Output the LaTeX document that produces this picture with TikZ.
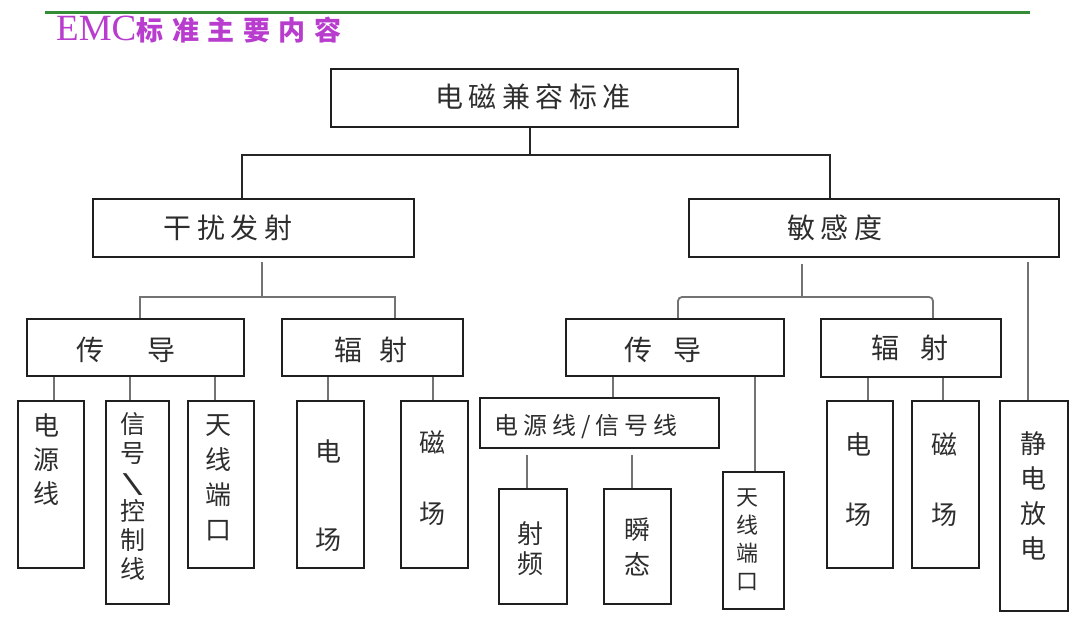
\documentclass[tikz,border=0pt]{standalone}
\usepackage{fontspec}
\usepackage{tikz}
\setmainfont{Liberation Serif}
\newfontfamily\cjk{Noto Sans CJK SC}
\newfontfamily\cjkw[LetterSpace=20]{Noto Sans CJK SC}
\newfontfamily\cjkt[LetterSpace=32]{Noto Sans CJK SC}
\definecolor{hdrgreen}{RGB}{52,140,52}
\definecolor{hdrpurple}{RGB}{184,60,205}
\definecolor{txtgray}{RGB}{45,45,45}

\begin{document}
\begin{tikzpicture}[x=1pt,y=1pt,yscale=-1,xscale=1,
  box/.style={draw=black!88, line width=2.2pt, inner sep=0pt, anchor=north west},
  link/.style={draw=black!85, line width=2pt},
  sublink/.style={draw=black!55, line width=1.8pt},
  lbl/.style={inner sep=0pt, text=txtgray, font=\cjkw\fontsize{28}{30}\selectfont},
  hlbl/.style={inner sep=0pt, text=txtgray, font=\cjk\fontsize{28}{30}\selectfont},
  vlbl/.style={inner sep=0pt, text=txtgray, align=center, font=\cjk\fontsize{26}{#1}\selectfont}]
\useasboundingbox (0,0) rectangle (1080,625);

%Header line and title
\draw [hdrgreen, line width=3pt] (45,12) -- (1030,12) ;
\node [anchor=west, inner sep=0pt, text=hdrpurple] (title) at (56,30) {\fontsize{37}{38}\selectfont EMC\cjkt\bfseries\fontsize{27}{30}\selectfont 标准主要内容};

%Level 1
\node [box, minimum width=407, minimum height=58] (emc) at (330,68) {};
\node [lbl] (emc-t) at (533,97) {电磁兼容标准};

%Level 2
\node [box, minimum width=321, minimum height=58] (emi) at (92,198) {};
\node [lbl] (emi-t) at (228,228) {干扰发射};
\node [box, minimum width=370, minimum height=58] (ems) at (688,198) {};
\node [lbl] (ems-t) at (835,228) {敏感度};

%Level 3, left
\node [box, minimum width=217, minimum height=57] (cdl) at (26,318) {};
\node [hlbl] (cdl-t) at (126,350) {传\hspace{44pt}导};
\node [box, minimum width=181, minimum height=57] (fsl) at (281,318) {};
\node [hlbl] (fsl-t) at (371,350) {辐\hspace{18pt}射};

%Level 3, right
\node [box, minimum width=218, minimum height=57] (cdr) at (565,318) {};
\node [hlbl] (cdr-t) at (663,350) {传\hspace{21pt}导};
\node [box, minimum width=180, minimum height=58] (fsr) at (820,318) {};
\node [hlbl] (fsr-t) at (910,348) {辐\hspace{22pt}射};

%Level 4, left
\node [box, minimum width=66, minimum height=167] (dyl) at (17,400) {};
\node [vlbl=34] (dyl-t) at (47,460) {电\\源\\线};
\node [box, minimum width=63, minimum height=203] (xhl) at (105,400) {};
\node [vlbl=29, font=\cjk\fontsize{25}{29}\selectfont] (xhl-t) at (133,496) {信\\号\\\scalebox{-1.8}[0.75]{\fontsize{30}{30}\selectfont /}\\控\\制\\线};
\node [box, minimum width=66, minimum height=167] (txl) at (187,400) {};
\node [vlbl=35] (txl-t) at (218,478) {天\\线\\端\\口};
\node [box, minimum width=67, minimum height=167] (dcl) at (296,400) {};
\node [vlbl=88] (dcl-t) at (328,496) {电\\场};
\node [box, minimum width=67, minimum height=167] (ccl) at (400,400) {};
\node [vlbl=71] (ccl-t) at (432,478) {磁\\场};

%Level 4, right
\node [box, minimum width=239, minimum height=50] (dxr) at (479,397) {};
\node [lbl, font=\cjkw\fontsize{24}{26}\selectfont] (dxr-t) at (586,427) {电源线/信号线};
\node [box, minimum width=68, minimum height=115] (spr) at (498,488) {};
\node [vlbl=30] (spr-t) at (530,549) {射\\频};
\node [box, minimum width=67, minimum height=115] (stt) at (603,488) {};
\node [vlbl=35] (stt-t) at (637,547) {瞬\\态};
\node [box, minimum width=61, minimum height=137] (txr) at (722,471) {};
\node [vlbl=28, font=\cjk\fontsize{22}{28}\selectfont] (txr-t) at (747,540) {天\\线\\端\\口};
\node [box, minimum width=66, minimum height=167] (dcr) at (826,400) {};
\node [vlbl=70] (dcr-t) at (858,480) {电\\场};
\node [box, minimum width=67, minimum height=167] (ccr) at (911,400) {};
\node [vlbl=70] (ccr-t) at (944,480) {磁\\场};
\node [box, minimum width=68, minimum height=210] (esd) at (999,400) {};
\node [vlbl=35] (esd-t) at (1033,496) {静\\电\\放\\电};

%Connectors
\coordinate (j0) at (530,155);
\coordinate (j1) at (262,297);
\coordinate (j2) at (802,297);
\draw [link] (emc.south -| j0) -- (j0) ;
\draw [link] (emi.north -| 242,0) |- (j0) -| (ems.north -| 830,0) ;
\draw [sublink, shorten <=4pt] (emi.south -| j1) -- (j1) ;
\draw [sublink] (cdl.north -| 140,0) |- (j1) -| (fsl.north -| 395,0) ;
\draw [sublink, shorten <=6pt] (ems.south -| j2) -- (j2) ;
\draw [sublink, rounded corners=4pt] (cdr.north -| 678,0) |- (j2) -| (fsr.north -| 933,0) ;
\draw [sublink, shorten <=4pt] (ems.south -| 1028,0) -- (esd.north -| 1028,0) ;
\draw [sublink] (cdl.south -| 54,0) -- (dyl.north -| 54,0) ;
\draw [sublink] (cdl.south -| 130,0) -- (xhl.north -| 130,0) ;
\draw [sublink] (cdl.south -| 215,0) -- (txl.north -| 215,0) ;
\draw [sublink] (fsl.south -| 328,0) -- (dcl.north -| 328,0) ;
\draw [sublink] (fsl.south -| 433,0) -- (ccl.north -| 433,0) ;
\draw [sublink] (cdr.south -| 613,0) -- (dxr.north -| 613,0) ;
\draw [sublink] (cdr.south -| 755,0) -- (txr.north -| 755,0) ;
\draw [sublink, shorten <=6pt] (dxr.south -| 527,0) -- (spr.north -| 527,0) ;
\draw [sublink, shorten <=6pt] (dxr.south -| 632,0) -- (stt.north -| 632,0) ;
\draw [sublink] (fsr.south -| 868,0) -- (dcr.north -| 868,0) ;
\draw [sublink] (fsr.south -| 943,0) -- (ccr.north -| 943,0) ;

\end{tikzpicture}
\end{document}
